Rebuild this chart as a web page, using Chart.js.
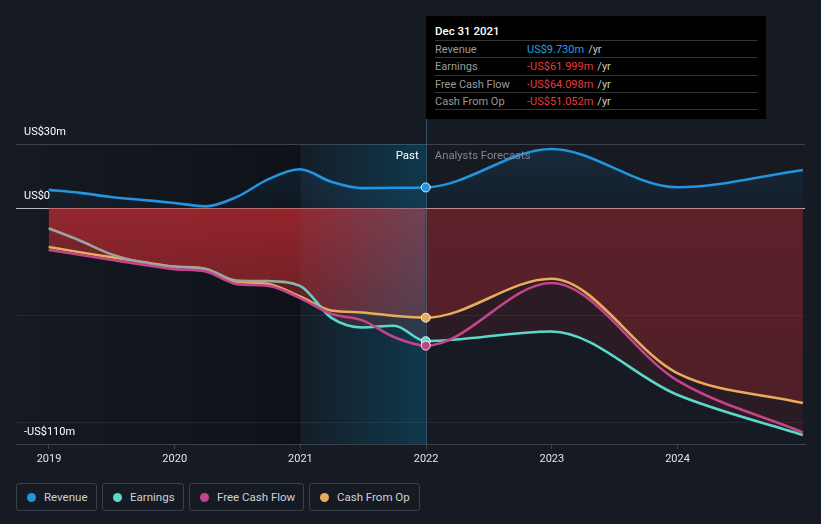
<!DOCTYPE html>
<html>
<head>
<meta charset="utf-8">
<script src="https://cdn.jsdelivr.net/npm/chart.js@4.4.0/dist/chart.umd.min.js"></script>
<style>
    html, body { margin: 0; padding: 0; background: #151a23; }
    body { width: 821px; height: 524px; position: relative; overflow: hidden; font-family: Roboto, 'Noto Sans', sans-serif; }
    #chart { position: absolute; left: 0; top: 0; }
    #tip { position: absolute; left: 426px; top: 16px; width: 340px; height: 103px; background: #000; box-sizing: border-box; padding: 0 9px; }
    #tip .title { height: 25px; box-sizing: border-box; padding-top: 8px; line-height: 14px; font-size: 11.5px; font-weight: 500; color: #fff; border-bottom: 1px solid #333; }
    #tip .row { height: 15.33px; box-sizing: content-box; padding-top: 1px; line-height: 16px; font-size: 11px; border-bottom: 1px solid #333; display: flex; }
    #tip .lbl { width: 92px; color: #9a9a9a; }
    #tip .val { color: #e8383d; }
    #tip .val.pos { color: #2a9fe6; }
    #tip .unit { color: #c8c8c8; margin-left: 4px; }
    #legend { position: absolute; left: 16px; top: 483px; display: flex; gap: 5px; }
    #legend .item { height: 28px; box-sizing: border-box; border: 1px solid #3a3f48; border-radius: 3px; position: relative; font-size: 11.5px; color: #cfd1d4; line-height: 26px; }
    #legend .dot { position: absolute; left: 10px; top: 9px; width: 9px; height: 9px; border-radius: 50%; }
    #legend .txt { position: absolute; left: 27px; top: 0; white-space: nowrap; }
</style>
</head>
<body>
<canvas id="chart" width="821" height="480"></canvas>
<div id="tip"></div>
<div id="legend"></div>
<script>
// quarterly history, then analyst forecasts (US$ m)
const dates = ['2018-12-31', '2019-03-31', '2019-06-30', '2019-09-30', '2019-12-31', '2020-03-31', '2020-06-30',
    '2020-09-30', '2020-12-31', '2021-03-31', '2021-06-30', '2021-09-30', '2021-12-31',
    '2022-12-31', '2023-12-31', '2024-12-31'];
const revenue = [8.6, 7.2, 5.3, 3.9, 2.5, 0.9, 5.3, 13.6, 18.2, 12.4, 9.4, 9.6, 9.730, 27.7, 9.8, 17.9];
const earnings = [-9.3, -15.0, -21.4, -25.3, -27.3, -28.3, -33.7, -34.0, -36.2, -51.0, -55.6, -54.8, -61.999, -57.5, -87.0, -105.8];
const freeCashFlow = [-19.4, -21.7, -24.0, -26.3, -28.4, -29.5, -35.4, -36.2, -41.9, -49.2, -52.3, -60.1, -64.098, -34.9, -80.3, -104.6];
const cashFromOp = [-18.1, -20.5, -22.8, -25.1, -27.2, -28.3, -34.3, -35.3, -41.2, -47.7, -48.6, -50.2, -51.052, -32.9, -76.9, -90.9];

const yearTicks = [2019, 2020, 2021, 2022, 2023, 2024];
const valueTicks = [-110, -100, -50, 0, 30];
const valueLabels = { '30': 'US$30m', '0': 'US$0', '-110': '-US$110m' };
const seriesNames = ['Revenue', 'Earnings', 'Free Cash Flow', 'Cash From Op'];
const seriesColors = ['#2394df', '#5ad8c8', '#c4448c', '#e8ad5a'];
const highlightDate = '2021-12-31';
const highlightLabel = 'Dec 31 2021';
const shadeFrom = 2021;

function toYear(d) {
    const t = new Date(d + 'T00:00:00Z');
    const y = t.getUTCFullYear();
    const a = Date.UTC(y, 0, 1), b = Date.UTC(y + 1, 0, 1);
    return y + (t - a) / (b - a);
}

const xs = dates.map(toYear);
const hIdx = dates.indexOf(highlightDate);
const hx = xs[hIdx];
const pts = arr => arr.map((v, i) => ({ x: xs[i], y: v }));
const isPast = c => c.p1.parsed.x <= hx + 0.001;

let grads = {};

const gradPlugin = {
    id: 'grads',
    afterLayout(chart) {
        const { ctx, chartArea: a, scales: { x, y } } = chart;
        const y0 = y.getPixelForValue(0);
        const vgrad = (stops) => {
            const g = ctx.createLinearGradient(0, y0, 0, a.bottom);
            stops.forEach(s => g.addColorStop(s[0], s[1]));
            return g;
        };
        grads.cfoPast = vgrad([[0, 'rgba(200,45,52,0.64)'], [0.45, 'rgba(200,45,52,0.37)'], [1, 'rgba(200,45,52,0.25)']]);
        grads.cfoFuture = vgrad([[0, 'rgba(200,45,52,0.33)'], [1, 'rgba(200,45,52,0.22)']]);
        grads.earnPast = 'rgba(200,45,52,0.22)';
        grads.earnFuture = 'rgba(200,45,52,0.12)';

        const rg = ctx.createLinearGradient(0, a.top, 0, y0);
        rg.addColorStop(0, 'rgba(35,148,223,0.14)');
        rg.addColorStop(1, 'rgba(35,148,223,0.04)');
        grads.revenue = rg;

        const x1 = x.getPixelForValue(2020.75), x2 = x.getPixelForValue(2021.2);
        const eg = ctx.createLinearGradient(x1, 0, x2, 0);
        eg.addColorStop(0, '#9ea39f');
        eg.addColorStop(1, seriesColors[1]);
        grads.earnLine = eg;
    }
};

const shadePlugin = {
    id: 'shade',
    beforeDraw(chart) {
        const { ctx, chartArea: a, scales: { x } } = chart;
        const xs1 = x.getPixelForValue(shadeFrom);
        const g = ctx.createLinearGradient(a.left, 0, xs1, 0);
        g.addColorStop(0, 'rgba(0,0,0,0)');
        g.addColorStop(1, 'rgba(0,0,0,0.3)');
        ctx.save();
        ctx.fillStyle = g;
        ctx.fillRect(a.left, a.top, xs1 - a.left, a.bottom - a.top);
        ctx.restore();
    },
    beforeDatasetsDraw(chart) {
        const { ctx, chartArea: a, scales: { x } } = chart;
        const xs1 = x.getPixelForValue(shadeFrom);
        const xh = x.getPixelForValue(hx);
        const g = ctx.createLinearGradient(xs1, 0, xh, 0);
        g.addColorStop(0, 'rgba(0,150,200,0.03)');
        g.addColorStop(1, 'rgba(0,150,200,0.25)');
        ctx.save();
        ctx.fillStyle = g;
        ctx.fillRect(xs1, a.top, xh - xs1, a.bottom - a.top);
        ctx.strokeStyle = 'rgba(70,130,155,0.55)';
        ctx.lineWidth = 1;
        ctx.beginPath();
        ctx.moveTo(Math.round(xh) + 0.5, 16);
        ctx.lineTo(Math.round(xh) + 0.5, a.bottom);
        ctx.stroke();
        ctx.restore();
    },
    afterDatasetsDraw(chart) {
        const { ctx, chartArea: a, scales: { x } } = chart;
        const xh = x.getPixelForValue(hx);
        ctx.save();
        ctx.font = '11.5px Roboto, sans-serif';
        ctx.textBaseline = 'middle';
        ctx.textAlign = 'right';
        ctx.fillStyle = '#ffffff';
        ctx.fillText('Past', xh - 7, a.top + 12);
        ctx.textAlign = 'left';
        ctx.fillStyle = '#80868f';
        ctx.font = '11.3px Roboto, sans-serif';
        ctx.fillText('Analysts Forecasts', xh + 9, a.top + 12);
        ctx.restore();
    }
};

function lineSet(label, data, color, extra) {
    return Object.assign({
        label: label,
        data: pts(data),
        borderColor: color,
        borderWidth: 2.6,
        fill: false,
        cubicInterpolationMode: 'monotone',
        pointRadius: c => c.dataIndex === hIdx ? 4.5 : 0,
        pointBackgroundColor: color,
        pointBorderColor: 'rgba(255,255,255,0.85)',
        pointBorderWidth: 1
    }, extra || {});
}

const datasets = [
    lineSet(seriesNames[0], revenue, seriesColors[0], {
        fill: 'origin',
        backgroundColor: () => grads.revenue
    }),
    lineSet(seriesNames[2], freeCashFlow, seriesColors[2]),
    lineSet(seriesNames[1], earnings, seriesColors[1], {
        fill: 'origin',
        segment: {
            borderColor: () => grads.earnLine,
            backgroundColor: c => isPast(c) ? grads.earnPast : grads.earnFuture
        }
    }),
    lineSet(seriesNames[3], cashFromOp, seriesColors[3], {
        fill: 'origin',
        segment: {
            backgroundColor: c => isPast(c) ? grads.cfoPast : grads.cfoFuture
        }
    })
];

const chart = new Chart(document.getElementById('chart').getContext('2d'), {
    type: 'line',
    data: { datasets: datasets },
    options: {
        responsive: false,
        animation: false,
        events: [],
        layout: { padding: { left: 16, right: 16, top: 144, bottom: 0 } },
        plugins: {
            legend: { display: false },
            tooltip: { enabled: false },
            filler: { drawTime: 'beforeDatasetsDraw' }
        },
        scales: {
            x: {
                type: 'linear',
                min: 2018.7375,
                max: 2025.014,
                afterBuildTicks: s => { s.ticks = yearTicks.map(v => ({ value: v })); },
                afterFit: s => { s.height = 36; },
                ticks: {
                    callback: v => String(v),
                    color: '#e2e4e7',
                    font: { family: 'Roboto', size: 11 },
                    padding: 4,
                    maxRotation: 0
                },
                grid: { drawOnChartArea: false, drawTicks: true, tickLength: 5, color: '#3c424c' },
                border: { color: '#3c424c' }
            },
            y: {
                min: -110,
                max: 30,
                afterBuildTicks: s => { s.ticks = valueTicks.map(v => ({ value: v })); },
                afterFit: s => { s.width = 0; },
                ticks: {
                    mirror: true,
                    padding: 8,
                    labelOffset: -12,
                    color: '#ffffff',
                    font: { family: 'Roboto', size: 11 },
                    callback: v => valueLabels[String(v)] || ''
                },
                grid: {
                    drawTicks: false,
                    color: c => {
                        const v = c.tick.value;
                        if (v === 0) return '#b9b9b9';
                        if (v === 30) return '#3c424c';
                        if (v === -110) return 'rgba(0,0,0,0)';
                        return 'rgba(255,255,255,0.07)';
                    }
                },
                border: { display: false }
            }
        }
    },
    plugins: [gradPlugin, shadePlugin]
});

// tooltip box for the highlighted date
const tip = document.getElementById('tip');
const tipValues = [revenue[hIdx], earnings[hIdx], freeCashFlow[hIdx], cashFromOp[hIdx]];
let html = '<div class="title">' + highlightLabel + '</div>';
seriesNames.forEach((name, i) => {
    const v = tipValues[i];
    const txt = (v < 0 ? '-' : '') + 'US$' + Math.abs(v).toFixed(3) + 'm';
    html += '<div class="row"><span class="lbl">' + name + '</span><span class="val' + (v >= 0 ? ' pos' : '') + '">' +
        txt + '</span><span class="unit">/yr</span></div>';
});
tip.innerHTML = html;

// legend buttons
const legend = document.getElementById('legend');
const legendWidths = [81, 82, 115, 111];
seriesNames.forEach((name, i) => {
    const item = document.createElement('div');
    item.className = 'item';
    item.style.width = legendWidths[i] + 'px';
    item.innerHTML = '<span class="dot" style="background:' + seriesColors[i] + '"></span><span class="txt">' + name + '</span>';
    legend.appendChild(item);
});
</script>
</body>
</html>
